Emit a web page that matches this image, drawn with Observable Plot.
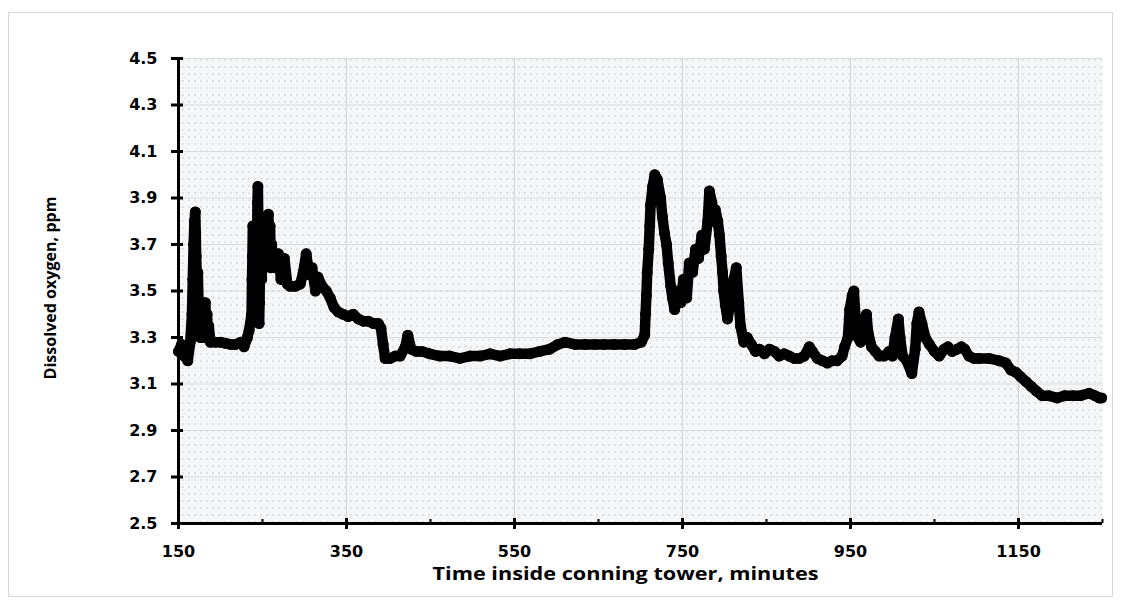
<!DOCTYPE html>
<html>
<head>
<meta charset="utf-8">
<script src="https://cdn.jsdelivr.net/npm/d3@7"></script>
<script src="https://cdn.jsdelivr.net/npm/@observablehq/plot@0.6"></script>
<style>
  html, body { margin: 0; padding: 0; background: #ffffff; }
  #wrap { position: relative; width: 1124px; height: 604px; }
  #border { position: absolute; left: 8px; top: 12px; width: 1105px; height: 585px; border: 1px solid #d9d9d9; box-sizing: border-box; }
  #chart { position: absolute; left: 0; top: 0; }
</style>
</head>
<body>
<div id="wrap"><div id="border"></div><div id="chart"></div></div>
<script>
// Time inside conning tower (minutes)
const time = [150,153.6,157,161,164,166,167,168,169,170,170.5,171,172,173,174,175,176,177,178,179,180,181,182,183,184,185,186,188,
  194,200,206,212,218,224,228,232,234,
  237,237.5,238,238.5,239,239.5,240,241,241.5,242,243,244,244.5,245,245.5,246,246.5,247,248,249,250,251,252,253,254,255,256,257,258,259,260,261,262,265,269,272,276,279.5,283,289,295,298.5,302,305.7,309,313,316,321,326,330.6,335,340,346,352,358,364,370,376,382,388,391,393.6,396,
  402,408,414,420,423,427,433,440,449,461,473,485,497,509,521,533,544.5,556,568,580,592,601.6,610,622,634,645.6,657,669,681,693,701,
  705,706,707,708,709.8,711,712,714.5,717,720,724,726,728.5,731,733,736,738,740.6,744,748,751,755,758,762,765.6,769,773,776,780,782,785,787,789,792,794,796,797.7,799,801,803.6,807,811,814,817,819,823,827,832,837,841.6,847.6,853.5,859.5,865,871,877,883,889,895,901,904.6,910.6,916.5,922.5,928,934,940,943,947,949,952,954,956,959,962,966,969,971,975,979.6,984,990,996,1000,1003,1007,1009,1012,1017,1023,1027,1029,1031.5,1035,1039,1044,1050,1055.6,1061.5,1066,1071,1077,1082,1086,1091,1097,1103,1115,1127,1135,1141,1147,1153,1159,1165,1171,1178,1186,1196,1205,1215,1224,1234,1241,1246,1249];
// Dissolved oxygen (ppm)
const oxygen = [3.24,3.27,3.22,3.20,3.28,3.40,3.55,3.70,3.80,3.84,3.75,3.65,3.52,3.58,3.42,3.35,3.30,3.38,3.32,3.42,3.30,3.35,3.45,3.32,3.40,3.30,3.35,3.28,
  3.28,3.28,3.275,3.27,3.27,3.28,3.26,3.30,3.33,
  3.40,3.55,3.65,3.78,3.60,3.50,3.70,3.62,3.45,3.75,3.55,3.88,3.95,3.80,3.50,3.36,3.45,3.62,3.72,3.55,3.68,3.78,3.60,3.70,3.82,3.65,3.78,3.83,3.70,3.78,3.60,3.70,3.62,3.60,3.66,3.55,3.64,3.53,3.52,3.52,3.53,3.58,3.66,3.57,3.60,3.50,3.56,3.52,3.50,3.47,3.43,3.41,3.40,3.39,3.40,3.38,3.37,3.37,3.36,3.36,3.34,3.27,3.21,
  3.21,3.22,3.22,3.26,3.31,3.25,3.24,3.24,3.23,3.22,3.22,3.21,3.22,3.22,3.23,3.22,3.23,3.23,3.23,3.24,3.25,3.27,3.28,3.27,3.27,3.27,3.27,3.27,3.27,3.27,3.28,
  3.31,3.40,3.48,3.58,3.68,3.78,3.87,3.95,4.00,3.98,3.90,3.82,3.75,3.70,3.62,3.52,3.47,3.42,3.50,3.45,3.55,3.47,3.62,3.58,3.68,3.64,3.74,3.68,3.80,3.93,3.88,3.80,3.85,3.80,3.74,3.65,3.58,3.50,3.44,3.38,3.45,3.55,3.60,3.45,3.35,3.28,3.30,3.27,3.24,3.25,3.23,3.25,3.24,3.22,3.23,3.22,3.21,3.21,3.22,3.26,3.24,3.21,3.20,3.19,3.20,3.20,3.22,3.26,3.30,3.42,3.48,3.50,3.38,3.30,3.28,3.38,3.40,3.32,3.26,3.24,3.22,3.22,3.24,3.22,3.30,3.38,3.30,3.22,3.20,3.145,3.25,3.36,3.41,3.36,3.30,3.27,3.24,3.22,3.25,3.26,3.24,3.25,3.26,3.25,3.22,3.21,3.21,3.21,3.20,3.19,3.16,3.15,3.13,3.11,3.09,3.07,3.05,3.05,3.04,3.05,3.05,3.05,3.06,3.05,3.04,3.04];

const xTicks = [150, 350, 550, 750, 950, 1150];
const xMinorTicks = [250, 450, 650, 850, 1050, 1250];
const yTicks = [2.5, 2.7, 2.9, 3.1, 3.3, 3.5, 3.7, 3.9, 4.1, 4.3, 4.5];
const xLabel = "Time inside conning tower, minutes";
const yLabel = "Dissolved oxygen, ppm";

const data = time.map((t, i) => ({t, v: oxygen[i]}));

const tickFont = {fontFamily: "DejaVu Sans", fontWeight: "bold", fontSize: 16};

const chart = Plot.plot({
  width: 1124,
  height: 604,
  marginLeft: 178,
  marginRight: 22,
  marginTop: 58,
  marginBottom: 81,
  style: {background: "transparent", color: "#000", overflow: "visible"},
  x: {domain: [150, 1250]},
  y: {domain: [2.5, 4.5]},
  marks: [
    Plot.frame({fill: "url(#dotgrid)", stroke: "none"}),
    Plot.gridX(xTicks.slice(1), {stroke: "#d4d4d4", strokeOpacity: 1, strokeWidth: 1}),
    Plot.gridY(yTicks, {stroke: "#dcdcdc", strokeOpacity: 1, strokeWidth: 1}),
    Plot.line(data, {x: "t", y: "v", stroke: "#000", strokeWidth: 10.5, strokeLinejoin: "round", strokeLinecap: "round"}),
    Plot.dot(data, {x: "t", y: "v", r: 5.5, fill: "#000", stroke: "none"}),
    Plot.ruleY([2.5], {stroke: "#000", strokeWidth: 3}),
    Plot.ruleX([150], {stroke: "#000", strokeWidth: 3}),
    Plot.axisX(xTicks, {tickSize: 11, dy: -5, tickFormat: () => "", label: null, strokeWidth: 3}),
    Plot.axisX(xMinorTicks, {tickSize: 4, dy: -4, tickFormat: () => "", label: null, strokeWidth: 2}),
    Plot.axisX(xTicks, {tickSize: 0, tickPadding: 22, tickFormat: d => String(d), label: null, ...tickFont}),
    Plot.axisY(yTicks, {tickSize: 12, dx: 5, tickFormat: () => "", label: null, strokeWidth: 3}),
    Plot.axisY(yTicks, {tickSize: 0, tickPadding: 21, tickFormat: d => d.toFixed(1), label: null, ...tickFont}),
    Plot.text([xLabel], {frameAnchor: "bottom", dy: 56, dx: -15, textAnchor: "middle", fontFamily: "Open Sans", fontWeight: "bold", fontSize: 18, fill: "#000"}),
    Plot.text([yLabel], {frameAnchor: "left", dx: -128, dy: -3, textAnchor: "middle", rotate: -90, fontFamily: "Open Sans", fontWeight: "bold", fontSize: 16, fill: "#000"})
  ]
});

const svg = d3.select(chart);
// stretch the axis titles to the reference's widths
svg.selectAll("text").filter(function() { return this.textContent === xLabel; })
  .attr("textLength", 386).attr("lengthAdjust", "spacingAndGlyphs");
svg.selectAll("text").filter(function() { return this.textContent === yLabel; })
  .attr("textLength", 183).attr("lengthAdjust", "spacingAndGlyphs");

// dotted background pattern for the plot area
const defs = svg.insert("defs", ":first-child");
const pat = defs.append("pattern").attr("id", "dotgrid").attr("patternUnits", "userSpaceOnUse")
  .attr("width", 6).attr("height", 7);
pat.append("rect").attr("width", 6).attr("height", 7).attr("fill", "#f4f6f8");
pat.append("rect").attr("x", 2).attr("y", 3).attr("width", 1).attr("height", 1).attr("fill", "#a8adb3");

document.getElementById("chart").appendChild(chart);
</script>
</body>
</html>
